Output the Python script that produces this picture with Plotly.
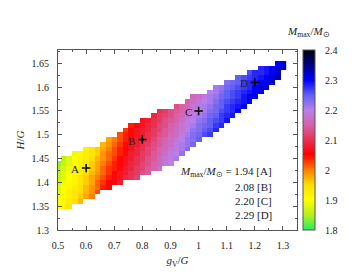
import plotly.graph_objects as go

# ---- data ----
GV = [0.50, 0.52, 0.54, 0.56, 0.58, 0.60, 0.62, 0.64, 0.66, 0.68,
      0.70, 0.72, 0.74, 0.76, 0.78, 0.80, 0.82, 0.84, 0.86, 0.88,
      0.90, 0.92, 0.94, 0.96, 0.98, 1.00, 1.02, 1.04, 1.06, 1.08,
      1.10, 1.12, 1.14, 1.16, 1.18, 1.20, 1.22, 1.24, 1.26, 1.28, 1.30]

# lowest H/G cell of each g_V column
H_START = [1.35, 1.35, 1.35, 1.36, 1.36, 1.37, 1.37, 1.38, 1.39, 1.39,
           1.40, 1.40, 1.41, 1.41, 1.41, 1.42, 1.42, 1.43, 1.43, 1.44,
           1.44, 1.45, 1.46, 1.47, 1.48, 1.49, 1.50, 1.50, 1.51, 1.52,
           1.53, 1.54, 1.55, 1.56, 1.57, 1.58, 1.59, 1.60, 1.61, 1.62, 1.64]

# M_max/M_sun in each column, bottom to top (H/G step 0.01)
M_COLS = [
    [1.90, 1.90, 1.89, 1.88, 1.88, 1.87, 1.86, 1.86, 1.85, 1.84],
    [1.92, 1.91, 1.91, 1.90, 1.90, 1.89, 1.88, 1.88, 1.87, 1.86, 1.86],
    [1.94, 1.93, 1.92, 1.92, 1.91, 1.91, 1.90, 1.90, 1.89, 1.88, 1.88],
    [1.95, 1.94, 1.94, 1.93, 1.92, 1.92, 1.91, 1.91, 1.90, 1.90, 1.89],
    [1.97, 1.96, 1.95, 1.95, 1.94, 1.94, 1.93, 1.93, 1.92, 1.92, 1.91],
    [1.98, 1.97, 1.97, 1.96, 1.96, 1.95, 1.94, 1.94, 1.93, 1.93, 1.92],
    [2.00, 1.99, 1.99, 1.98, 1.98, 1.97, 1.96, 1.96, 1.95, 1.94, 1.94],
    [2.02, 2.01, 2.01, 2.00, 1.99, 1.98, 1.98, 1.97, 1.96, 1.96],
    [2.04, 2.03, 2.02, 2.01, 2.01, 2.00, 1.99, 1.99, 1.98, 1.97],
    [2.06, 2.05, 2.04, 2.03, 2.03, 2.02, 2.01, 2.01, 2.00, 1.99, 1.98],
    [2.06, 2.06, 2.05, 2.04, 2.04, 2.03, 2.02, 2.02, 2.01, 2.00],
    [2.08, 2.07, 2.07, 2.06, 2.05, 2.05, 2.04, 2.04, 2.03, 2.02, 2.02],
    [2.09, 2.08, 2.08, 2.07, 2.07, 2.06, 2.05, 2.05, 2.04, 2.04, 2.03],
    [2.10, 2.10, 2.09, 2.09, 2.08, 2.08, 2.07, 2.07, 2.06, 2.05, 2.05, 2.04],
    [2.12, 2.11, 2.11, 2.10, 2.10, 2.09, 2.09, 2.08, 2.08, 2.07, 2.07, 2.06],
    [2.13, 2.12, 2.12, 2.11, 2.11, 2.10, 2.10, 2.09, 2.08, 2.08, 2.07, 2.07],
    [2.14, 2.14, 2.13, 2.13, 2.12, 2.12, 2.11, 2.10, 2.10, 2.09, 2.09, 2.08],
    [2.15, 2.15, 2.14, 2.14, 2.13, 2.13, 2.12, 2.11, 2.11, 2.10, 2.10, 2.09],
    [2.17, 2.16, 2.16, 2.15, 2.15, 2.14, 2.14, 2.13, 2.12, 2.12, 2.11, 2.11, 2.10],
    [2.18, 2.18, 2.17, 2.16, 2.16, 2.15, 2.14, 2.14, 2.13, 2.13, 2.12, 2.11],
    [2.20, 2.19, 2.19, 2.18, 2.17, 2.17, 2.16, 2.15, 2.15, 2.14, 2.13, 2.13],
    [2.21, 2.20, 2.19, 2.19, 2.18, 2.17, 2.17, 2.16, 2.15, 2.15, 2.14, 2.13],
    [2.22, 2.21, 2.21, 2.20, 2.19, 2.18, 2.18, 2.17, 2.16, 2.15, 2.15],
    [2.23, 2.22, 2.22, 2.21, 2.20, 2.19, 2.19, 2.18, 2.17, 2.16, 2.15],
    [2.24, 2.23, 2.23, 2.22, 2.21, 2.20, 2.19, 2.18, 2.18, 2.17, 2.16],
    [2.25, 2.24, 2.23, 2.23, 2.22, 2.21, 2.20, 2.19, 2.18, 2.17],
    [2.26, 2.25, 2.24, 2.23, 2.22, 2.21, 2.21, 2.20, 2.19],
    [2.27, 2.26, 2.25, 2.25, 2.24, 2.23, 2.22, 2.21, 2.21, 2.20],
    [2.28, 2.27, 2.26, 2.25, 2.24, 2.24, 2.23, 2.22, 2.21, 2.21],
    [2.28, 2.27, 2.27, 2.26, 2.25, 2.25, 2.24, 2.23, 2.22],
    [2.29, 2.28, 2.27, 2.27, 2.26, 2.25, 2.25, 2.24, 2.23],
    [2.29, 2.28, 2.28, 2.27, 2.26, 2.26, 2.25, 2.24],
    [2.30, 2.29, 2.28, 2.27, 2.27, 2.26, 2.25, 2.25],
    [2.30, 2.29, 2.29, 2.28, 2.27, 2.27, 2.26],
    [2.30, 2.30, 2.29, 2.28, 2.28, 2.27, 2.26],
    [2.31, 2.30, 2.30, 2.29, 2.28, 2.28],
    [2.31, 2.31, 2.30, 2.29, 2.28, 2.28],
    [2.32, 2.31, 2.30, 2.29, 2.29],
    [2.32, 2.31, 2.30, 2.30],
    [2.33, 2.32, 2.31, 2.30],
    [2.32, 2.31],
]

# marked models
PT_LABEL = ["A", "B", "C", "D"]
PT_GV = [0.6, 0.8, 1.0, 1.2]
PT_H = [1.43, 1.49, 1.55, 1.61]
PT_M = [1.94, 2.08, 2.20, 2.29]

CB_TICKS = [1.8, 1.9, 2.0, 2.1, 2.2, 2.3, 2.4]
CB_LABELS = ["1.8", "1.9", "2", "2.1", "2.2", "2.3", "2.4"]

H_ROWS = [round(1.30 + 0.01 * k, 2) for k in range(38)]

# ---- build grid ----
z = [[None] * len(GV) for _ in H_ROWS]
for j, col in enumerate(M_COLS):
    k0 = H_ROWS.index(H_START[j])
    for i, m in enumerate(col):
        z[k0 + i][j] = m

FONT = "Liberation Serif, Times New Roman, serif"
TXT = "#222222"
ZMIN, ZMAX = 1.8, 2.4

colorscale = [
    [0.00, "#22f060"],
    [0.08, "#b0f020"],
    [0.17, "#ffff00"],
    [0.25, "#ffe000"],
    [0.333, "#ff8000"],
    [0.42, "#ff0000"],
    [0.50, "#e83050"],
    [0.58, "#d860a8"],
    [0.667, "#b880ec"],
    [0.75, "#6060f4"],
    [0.833, "#0000ff"],
    [0.92, "#000080"],
    [1.00, "#000010"],
]

CB_X = 1.025
CB_W = 12  # px
PLOT_W = 239

fig = go.Figure()
fig.add_trace(go.Heatmap(
    x=GV, y=H_ROWS, z=z, zmin=ZMIN, zmax=ZMAX, zsmooth=False,
    colorscale=colorscale, hoverongaps=False,
    colorbar=dict(
        x=CB_X, xanchor="left", xpad=0, ypad=0, y=0.5, yanchor="middle",
        len=1.0, lenmode="fraction", thickness=CB_W,
        outlinewidth=1, outlinecolor="#555555",
        tickvals=CB_TICKS, ticktext=CB_LABELS,
        ticks="outside", ticklen=8, tickcolor="rgba(0,0,0,0)",
        tickfont=dict(family=FONT, size=10, color=TXT),
    ),
))

fig.add_trace(go.Scatter(
    x=PT_GV, y=PT_H, mode="markers",
    marker=dict(symbol="cross-thin", size=6, line=dict(width=1.5, color="black")),
    showlegend=False, hoverinfo="skip",
))

axis_common = dict(
    showline=True, linecolor="#555555", linewidth=1, mirror="allticks",
    ticks="inside", ticklen=4, tickcolor="#555555", showgrid=False,
    zeroline=False, tickfont=dict(family=FONT, size=10, color=TXT),
    ticklabelstandoff=6,
)

fig.update_xaxes(range=[0.5, 1.35], tick0=0.5, dtick=0.1,
                 minor=dict(dtick=0.05, ticks="inside", ticklen=2, tickcolor="#555555"),
                 title=dict(text="<i>g</i><sub>V</sub>/<i>G</i>",
                            font=dict(family=FONT, size=11, color=TXT), standoff=6),
                 **axis_common)
fig.update_yaxes(range=[1.3, 1.678], tick0=1.3, dtick=0.05,
                 minor=dict(dtick=0.025, ticks="inside", ticklen=2, tickcolor="#555555"),
                 title=dict(text="<i>H</i>/<i>G</i>",
                            font=dict(family=FONT, size=11, color=TXT), standoff=4),
                 **axis_common)

annotations = [
    dict(xref="paper", yref="paper", x=1.048, y=1.099, xanchor="center", yanchor="middle",
         text="<i>M</i><sub>max</sub>/<i>M</i><sub>⊙</sub>", showarrow=False,
         font=dict(family=FONT, size=11, color=TXT)),
]
# point labels
for lab, gx, hy in zip(PT_LABEL, PT_GV, PT_H):
    annotations.append(dict(xref="x", yref="y", x=gx, y=hy, xanchor="right", yanchor="middle",
                            xshift=-5, yshift=-1, text=lab, showarrow=False,
                            font=dict(family=FONT, size=11, color=TXT)))
first = "<i>M</i><sub>max</sub>/<i>M</i><sub>⊙</sub> = "
line_y = [1.422, 1.391, 1.360, 1.331]
for i, (lab, m) in enumerate(zip(PT_LABEL, PT_M)):
    txt = (first if i == 0 else "") + f"{m:.2f} [{lab}]"
    annotations.append(dict(xref="x", yref="y", x=1.268, y=line_y[i],
                            xanchor="right", yanchor="middle", text=txt, showarrow=False,
                            font=dict(family=FONT, size=11, color=TXT)))

# small inner tick dashes on the colour bar
shapes = []
dx = 3.5 / PLOT_W
right = CB_X + CB_W / PLOT_W
for v in CB_TICKS[1:-1]:
    yp = (v - ZMIN) / (ZMAX - ZMIN)
    shapes.append(dict(type="line", xref="paper", yref="paper", x0=CB_X, x1=CB_X + dx,
                       y0=yp, y1=yp, line=dict(color="#111111", width=1)))
    shapes.append(dict(type="line", xref="paper", yref="paper", x0=right - dx, x1=right,
                       y0=yp, y1=yp, line=dict(color="#111111", width=1)))

# page body has an 8px margin; size the figure so the plot lands where the reference has it
fig.update_layout(
    width=349, height=269,
    margin=dict(l=50, r=60, t=42, b=45),
    paper_bgcolor="white", plot_bgcolor="white",
    showlegend=False, annotations=annotations, shapes=shapes,
    font=dict(family=FONT, size=10, color=TXT),
)

fig.write_html("out.html")
